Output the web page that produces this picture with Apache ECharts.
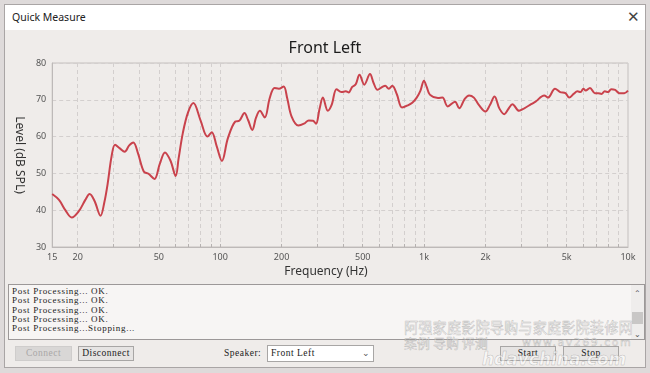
<!DOCTYPE html>
<html><head><meta charset="utf-8">
<script src="https://cdn.jsdelivr.net/npm/echarts@6/dist/echarts.min.js"></script>
<style>
body{margin:0;width:650px;height:373px;background:#dedada;position:relative;overflow:hidden;font-family:"Noto Sans",sans-serif;}
.a{position:absolute;box-sizing:border-box;}
#win{left:4px;top:4px;width:642px;height:364px;background:#efecea;border:1px solid #a9a5a5;}
#tbar{left:5px;top:5px;width:640px;height:25px;background:#fff;}
#ttl{left:12px;top:10px;font-size:10.5px;color:#222;line-height:14px;}
#cls{left:627px;top:7px;font-size:15px;color:#444;line-height:18px;}
#chart{left:5px;top:30px;width:640px;height:254px;}
#log{left:8px;top:284px;width:637px;height:56px;background:#f7f5f4;border:1px solid #9c9898;}
#logtxt{left:12px;top:287px;font-family:"Liberation Serif",serif;font-size:9px;line-height:9.3px;letter-spacing:0.7px;color:#222;white-space:pre;}
#sb{left:631px;top:285px;width:13px;height:54px;background:#efedec;}
.arr{font-size:8px;color:#555;width:13px;text-align:center;}
#thumb{left:632px;top:312px;width:11px;height:12px;background:#c9c7c6;}
.btn{font-family:"Liberation Serif",serif;font-size:9.5px;letter-spacing:0.5px;text-align:center;line-height:13px;height:15px;border:1px solid #a8a6a5;}
#b1{left:15px;top:346px;width:57px;background:#d9d7d6;color:#a9a7a7;border-color:#cfcdcc;}
#b2{left:78px;top:346px;width:56px;background:#e6e4e3;color:#222;}
#spk{left:224px;top:347px;font-family:"Liberation Serif",serif;font-size:9.5px;letter-spacing:0.5px;color:#222;line-height:13px;}
#dd{left:267px;top:345px;width:107px;height:17px;background:#fff;border:1px solid #a8a6a5;font-family:"Liberation Serif",serif;font-size:9.5px;letter-spacing:0.5px;color:#222;line-height:15px;padding-left:3px;}
#ddv{left:362px;top:347px;font-size:9px;color:#555;line-height:12px;}
#b3{left:500px;top:346px;width:56px;background:#e6e4e3;color:#222;}
#b4{left:563px;top:346px;width:56px;background:#e6e4e3;color:#222;}
.wm{color:rgba(255,255,255,0.55);-webkit-text-stroke:0.5px rgba(120,120,120,0.45);font-family:"Noto Sans CJK SC",sans-serif;white-space:nowrap;}
</style></head>
<body>
<div class="a" id="win"></div>
<div class="a" id="tbar"></div>
<div class="a" id="ttl">Quick Measure</div>
<div class="a" id="cls">✕</div>
<div class="a" id="chart"></div>
<div class="a" id="log"></div>
<div class="a" id="logtxt">Post Processing... OK.
Post Processing... OK.
Post Processing... OK.
Post Processing... OK.
Post Processing...Stopping...</div>
<div class="a" id="sb"></div>
<div class="a arr" style="left:631px;top:287px;">&#8963;</div>
<div class="a" id="thumb"></div>
<div class="a arr" style="left:631px;top:328px;">&#8964;</div>
<div class="a btn" id="b1">Connect</div>
<div class="a btn" id="b2">Disconnect</div>
<div class="a" id="spk">Speaker:</div>
<div class="a" id="dd">Front Left</div>
<div class="a" id="ddv">&#8964;</div>
<div class="a btn" id="b3">Start</div>
<div class="a btn" id="b4">Stop</div>
<div class="a wm" style="left:404px;top:318px;font-size:14.3px;line-height:18px;">阿强家庭影院导购与家庭影院装修网</div>
<div class="a wm" style="left:404px;top:335px;font-size:13px;line-height:16px;">案例 导购 评测</div>
<div class="a wm" style="left:522px;top:336px;font-size:11px;line-height:14px;letter-spacing:1.5px;font-family:'DejaVu Sans',sans-serif;">www.av269.com</div>
<div class="a wm" style="left:482px;top:349px;font-size:17px;line-height:20px;font-weight:bold;font-style:italic;font-family:'DejaVu Sans',sans-serif;">hdavchina.com</div>
<script>
// Frequency response (Hz) and level (dB SPL)
const freqs = [15,16.2,17.4,18.7,20.3,21.8,22.9,24.2,25.9,27,28.1,29.3,30.5,32.2,34,35.8,37.5,39.5,42.2,44.5,47.6,50.5,53.6,57,60.5,62.5,65.6,69.5,73.9,80,86.6,90.9,96,102,109,118.6,124,131.5,137,143.7,150,156.5,165.4,175,184.7,194,204.8,213,223.8,241.7,257.6,272,285.5,295,307,318.9,337,352,372,393,413,427,444,462,482,509,542.7,566,591,624.6,645,671,698,735,780,833,875,920,960,998,1030,1067,1170,1230,1306,1418,1487,1580,1661,1755,1855,1998,2100,2215,2342,2474,2590,2713,2922,3100,3348,3520,3884,4050,4386,4650,4934,5150,5413,5650,5850,6047,6200,6508,6880,7140,7410,7690,7980,8275,8650,9070,9590,10000];
const levels = [44.4,42.8,40.0,38.0,39.8,42.8,44.4,42.5,38.5,42.0,47.4,54.5,57.8,56.8,55.9,57.6,58.4,55.5,50.5,49.9,48.5,52.5,55.7,53.5,49.3,54.0,61.0,66.5,69.1,64.5,60.0,61.2,57.5,53.4,59.5,64.1,64.3,66.4,64.5,61.8,65.2,67.0,65.2,70.5,73.2,73.0,73.6,70.5,65.5,63.0,63.5,64.4,64.3,63.5,67.5,70.6,67.0,68.6,72.9,72.1,72.3,72.0,73.5,74.2,76.8,74.1,77.0,74.5,72.7,73.5,73.8,73.0,73.8,71.5,67.9,68.5,69.2,70.6,72.5,75.2,73.5,71.4,70.5,70.6,68.2,69.5,67.7,70.2,71.2,70.6,68.6,66.8,68.5,70.9,67.6,66.1,67.5,68.8,67.0,67.7,68.8,69.5,71.2,70.6,73.0,72.1,71.8,70.6,71.6,72.3,72.1,73.0,72.5,73.2,71.8,71.8,71.6,72.3,72.1,72.9,72.7,71.8,71.8,72.5];
const xLabelFreqs = [15,20,50,100,200,500,1000,2000,5000,10000];
const xGridFreqs = [20,30,40,50,60,70,80,90,100,200,300,400,500,600,700,800,900,1000,2000,3000,4000,5000,6000,7000,8000,9000];
const yMin = 30, yMax = 80, yStep = 10;
const chartTitle = 'Front Left';
const xName = 'Frequency (Hz)';
const yName = 'Level (dB SPL)';

const chart = echarts.init(document.getElementById('chart'), null, {renderer:'canvas'});
const fmt = v => { const f = Math.round(Math.pow(10, v)); return f >= 1000 ? (f/1000) + 'k' : String(f); };
const font = '"Noto Sans", sans-serif';
chart.setOption({
  animation: false,
  backgroundColor: 'transparent',
  title: {text: chartTitle, left: 'center', top: 5, textStyle: {fontSize: 16, fontWeight: 'normal', color: '#1c1c1c', fontFamily: font}},
  grid: {left: 35, top: 33, width: 588, height: 184, show: true, borderColor: '#c4c0bf', borderWidth: 1},
  xAxis: {
    type: 'value', min: Math.log10(15), max: 4,
    axisLine: {show: true, lineStyle: {color: '#bdb9b8'}},
    axisTick: {show: true, inside: true, length: 3, customValues: xGridFreqs.map(f => Math.log10(f)), lineStyle: {color: '#b5b1b0'}},
    axisLabel: {customValues: xLabelFreqs.map(f => Math.log10(f)), formatter: fmt, fontSize: 9, color: '#555', margin: 6, fontFamily: font},
    splitLine: {show: true, lineStyle: {type: [4, 3], color: '#d3cfce'}}
  },
  yAxis: {
    type: 'value', min: yMin, max: yMax, interval: yStep,
    axisLine: {show: true, lineStyle: {color: '#bdb9b8'}},
    axisTick: {show: false},
    axisLabel: {fontSize: 9, color: '#555', margin: 6, fontFamily: font},
    splitLine: {show: true, lineStyle: {type: [4, 3], color: '#d3cfce'}},
    name: yName, nameLocation: 'middle', nameRotate: -90, nameGap: 26,
    nameTextStyle: {fontSize: 12, color: '#333', fontFamily: font}
  },
  graphic: [{type: 'text', style: {text: xName, x: 321, y: 242, align: 'center', verticalAlign: 'middle', fontSize: 12, fill: '#333', fontFamily: font}}],
  series: [{
    type: 'line', smooth: 0.35, symbol: 'none',
    data: freqs.map((f, i) => [Math.log10(f), levels[i]]),
    lineStyle: {color: '#c9424c', width: 2}
  }]
});
</script>
</body></html>
